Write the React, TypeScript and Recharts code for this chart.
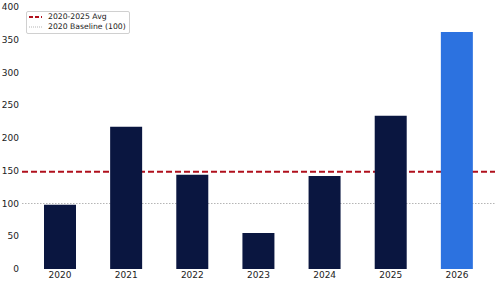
import { Bar, BarChart, Cell, ReferenceLine, XAxis, YAxis } from 'recharts'

const years = ['2020', '2021', '2022', '2023', '2024', '2025', '2026']
const values = [98, 217, 144, 55, 142, 234, 362]
const yTicks = [0, 50, 100, 150, 200, 250, 300, 350, 400]
const baselineValue = 100

const pastValues = values.slice(0, 6)
const avgValue = pastValues.reduce((s, v) => s + v, 0) / pastValues.length

const rows = years.map((year, i) => ({ year, value: values[i] }))

const NAVY = '#0a1640'
const BLUE = '#2c72e0'
const RED = '#b0101c'
const GRAY = '#b5b5b5'
const FONT = 'DejaVu Sans, sans-serif'

function LegendBox() {
  return (
    <div
      style={{
        position: 'absolute',
        left: 26,
        top: 11,
        border: '1px solid #d0d0d0',
        borderRadius: 2,
        background: '#fff',
        padding: '0px 3px 0px 1px',
        fontFamily: FONT,
        fontSize: 7.7,
        color: '#1a1a1a',
        lineHeight: '10.3px',
      }}
    >
      <div style={{ display: 'flex', alignItems: 'center' }}>
        <svg width={19} height={6} style={{ marginRight: 1 }}>
          <line x1={1} y1={3} x2={14} y2={3} stroke={RED} strokeWidth={2} strokeDasharray="4 2" />
        </svg>
        2020-2025 Avg
      </div>
      <div style={{ display: 'flex', alignItems: 'center' }}>
        <svg width={19} height={6} style={{ marginRight: 1 }}>
          <line x1={1} y1={3} x2={14} y2={3} stroke={GRAY} strokeWidth={1} strokeDasharray="1 1" />
        </svg>
        2020 Baseline (100)
      </div>
    </div>
  )
}

export default function App() {
  return (
    <div style={{ position: 'fixed', left: 0, top: 0, width: 500, height: 284, background: '#fff' }}>
      <BarChart
        width={500}
        height={284}
        data={rows}
        margin={{ top: 7, right: 5, bottom: 0, left: 0 }}
      >
        <XAxis
          dataKey="year"
          axisLine={false}
          tickLine={false}
          tickSize={0}
          tickMargin={3}
          height={15}
          padding={{ left: 5, right: 5 }}
          tick={{ fontSize: 9, fontFamily: FONT, fill: '#222' }}
          interval={0}
        />
        <YAxis
          domain={[0, 400]}
          ticks={yTicks}
          axisLine={false}
          tickLine={false}
          tickSize={0}
          tickMargin={3}
          width={22}
          tick={{ fontSize: 9, fontFamily: FONT, fill: '#222' }}
          interval={0}
        />
        <ReferenceLine
          y={baselineValue}
          stroke={GRAY}
          strokeWidth={1}
          strokeDasharray="1.5 1.5"
          zIndex={0}
        />
        <ReferenceLine
          y={avgValue}
          stroke={RED}
          strokeWidth={2}
          strokeDasharray="6 3"
          zIndex={1}
        />
        <Bar dataKey="value" barSize={32} isAnimationActive={false} zIndex={300}>
          {rows.map((r, i) => (
            <Cell key={r.year} fill={i === rows.length - 1 ? BLUE : NAVY} />
          ))}
        </Bar>
      </BarChart>
      <LegendBox />
    </div>
  )
}
